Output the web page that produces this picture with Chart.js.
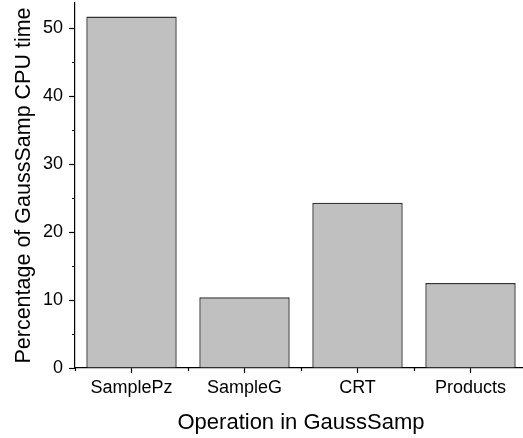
<!DOCTYPE html>
<html>
<head>
<meta charset="utf-8">
<script src="https://cdn.jsdelivr.net/npm/chart.js@4"></script>
<style>
  html, body { margin: 0; padding: 0; background: #fff; overflow: hidden; }
  #box { width: 530px; height: 438px; }
</style>
</head>
<body>
<div id="box"><canvas id="barChart"></canvas></div>
<script>
const operations = ['SamplePz', 'SampleG', 'CRT', 'Products'];
const cpuShare = [51.7, 10.4, 24.3, 12.5];
const yMajorTicks = [0, 10, 20, 30, 40, 50];
const yMinorTicks = [5, 15, 25, 35, 45];

const fontFamily = '"Liberation Sans", Arial, sans-serif';

// minor ticks: y between the labelled ones, x on category boundaries
const minorTicks = {
  id: 'minorTicks',
  afterDraw(chart) {
    const {ctx, scales: {x, y}} = chart;
    ctx.save();
    ctx.strokeStyle = '#000';
    ctx.lineWidth = 1.2;
    ctx.beginPath();
    yMinorTicks.forEach(v => {
      const py = Math.round(y.getPixelForValue(v)) + 0.5;
      ctx.moveTo(x.left - 3, py);
      ctx.lineTo(x.left, py);
    });
    const half = (x.getPixelForValue(1) - x.getPixelForValue(0)) / 2;
    operations.forEach((op, i) => {
      const px = Math.round(x.getPixelForValue(i) - half) + 0.5;
      ctx.moveTo(px, y.bottom);
      ctx.lineTo(px, y.bottom + 3);
    });
    ctx.stroke();
    ctx.restore();
  }
};

const ctx = document.getElementById('barChart').getContext('2d');
new Chart(ctx, {
  type: 'bar',
  data: {
    labels: operations,
    datasets: [{
      data: cpuShare,
      backgroundColor: '#c0c0c0',
      borderColor: '#333',
      borderWidth: 1.4,
      barPercentage: 0.8,
      categoryPercentage: 1,
    }]
  },
  options: {
    responsive: true,
    maintainAspectRatio: false,
    animation: false,
    layout: { padding: { top: 3, right: 3, left: 0, bottom: 0 } },
    plugins: {
      legend: { display: false },
      tooltip: { enabled: false }
    },
    scales: {
      x: {
        afterFit: scale => {
          scale.height = 70;
          scale.paddingLeft = 0;
          scale.paddingRight = 0;
        },
        border: { color: '#000', width: 1.2 },
        grid: {
          display: true,
          drawOnChartArea: false,
          drawTicks: true,
          tickLength: 5,
          tickColor: '#000',
          tickWidth: 1.2,
          offset: false
        },
        ticks: {
          color: '#000',
          padding: 4,
          font: { family: fontFamily, size: 18 }
        },
        title: {
          display: true,
          text: 'Operation in GaussSamp',
          color: '#000',
          font: { family: fontFamily, size: 22 },
          padding: { top: 0, bottom: 2 }
        }
      },
      y: {
        min: 0,
        max: 53.7,
        afterFit: scale => {
          scale.width = 75;
          scale.paddingTop = 0;
          scale.paddingBottom = 0;
        },
        afterBuildTicks: scale => {
          scale.ticks = yMajorTicks.map(v => ({ value: v }));
        },
        border: { color: '#000', width: 1.2 },
        grid: {
          display: true,
          drawOnChartArea: false,
          drawTicks: true,
          tickLength: 6,
          tickColor: '#000',
          tickWidth: 1.2
        },
        ticks: {
          color: '#000',
          padding: 6,
          stepSize: 10,
          font: { family: fontFamily, size: 18 }
        },
        title: {
          display: true,
          text: 'Percentage of GaussSamp CPU time',
          color: '#000',
          font: { family: fontFamily, size: 21.5 },
          padding: { top: 11.5, bottom: 0 }
        }
      }
    }
  },
  plugins: [minorTicks]
});
</script>
</body>
</html>
